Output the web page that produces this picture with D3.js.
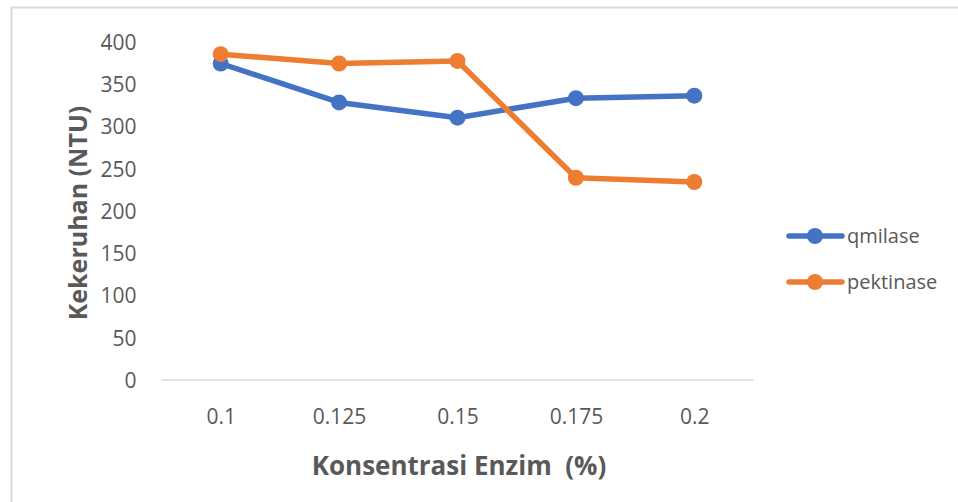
<!DOCTYPE html>
<html>
<head>
<meta charset="utf-8">
<script src="https://cdn.jsdelivr.net/npm/d3@7"></script>
<style>
  body { margin: 0; background: #fff; }
  text { font-family: "Open Sans", "Noto Sans", sans-serif; }
</style>
</head>
<body>
<div id="wrapper"></div>
<script>
// DATA
const categories = ["0.1", "0.125", "0.15", "0.175", "0.2"]
const qmilase = [374, 328, 310, 333, 336]
const pektinase = [385, 374, 377, 239, 234]
const yTicks = [0, 50, 100, 150, 200, 250, 300, 350, 400]
const seriesNames = ["qmilase", "pektinase"]
const seriesColors = ["#4472C4", "#ED7D31"]

const width = 958
const height = 502
const margin = { top: 41.5, left: 161.5, right: 204.5, bottom: 122 }

const svg = d3.select("#wrapper").append("svg")
  .attr("width", width)
  .attr("height", height)

// chart border
svg.append("rect")
  .attr("x", 11.5).attr("y", 7.5)
  .attr("width", 960).attr("height", 510)
  .attr("fill", "none")
  .attr("stroke", "#d9d9d9")
  .attr("stroke-width", 2)

const x = d3.scalePoint()
  .domain(categories)
  .range([margin.left, width - margin.right])
  .padding(0.5)

const y = d3.scaleLinear()
  .domain([0, 400])
  .range([380, margin.top])

// y tick labels
const yAxis = svg.append("g")
  .attr("transform", `translate(${margin.left}, 0)`)
  .call(d3.axisLeft(y).tickValues(yTicks).tickSize(0).tickPadding(25))
yAxis.select(".domain").remove()
yAxis.selectAll("text")
  .attr("fill", "#595959")
  .style("font-size", "21px")
  .attr("dy", "0.36em")

// x axis
const xAxis = svg.append("g")
  .attr("transform", `translate(0, 380)`)
  .call(d3.axisBottom(x).tickSize(0).tickPadding(29))
xAxis.select(".domain")
  .attr("stroke", "#d9d9d9")
  .attr("stroke-width", 1.5)
  .attr("d", `M${margin.left},0H${width - margin.right}`)
xAxis.selectAll("text")
  .attr("fill", "#595959")
  .style("font-size", "21px")

// axis titles
svg.append("text")
  .attr("transform", "translate(87, 213) rotate(-90)")
  .attr("text-anchor", "middle")
  .attr("fill", "#595959")
  .style("font-size", "25px")
  .style("font-weight", "bold")
  .text("Kekeruhan (NTU)")

svg.append("text")
  .attr("x", 459).attr("y", 475)
  .attr("text-anchor", "middle")
  .attr("fill", "#595959")
  .style("font-size", "26px")
  .style("font-weight", "bold")
  .style("white-space", "pre")
  .text("Konsentrasi Enzim  (%)")

// series
const series = [qmilase, pektinase]
const line = d3.line()
  .x((d, i) => x(categories[i]))
  .y(d => y(d))

series.forEach((values, s) => {
  svg.append("path")
    .datum(values)
    .attr("d", line)
    .attr("fill", "none")
    .attr("stroke", seriesColors[s])
    .attr("stroke-width", 5.5)
    .attr("stroke-linejoin", "round")
    .attr("stroke-linecap", "round")

  svg.selectAll(null)
    .data(values)
    .join("circle")
    .attr("cx", (d, i) => x(categories[i]))
    .attr("cy", d => y(d))
    .attr("r", 8)
    .attr("fill", seriesColors[s])
})

// legend
const legend = svg.append("g")
seriesNames.forEach((name, i) => {
  const ly = 236 + i * 46
  legend.append("line")
    .attr("x1", 789).attr("x2", 842)
    .attr("y1", ly).attr("y2", ly)
    .attr("stroke", seriesColors[i])
    .attr("stroke-width", 5.5)
    .attr("stroke-linecap", "round")
  legend.append("circle")
    .attr("cx", 815).attr("cy", ly).attr("r", 8)
    .attr("fill", seriesColors[i])
  legend.append("text")
    .attr("x", 847).attr("y", ly + 7)
    .attr("fill", "#595959")
    .style("font-size", "20px")
    .text(name)
})
</script>
</body>
</html>
